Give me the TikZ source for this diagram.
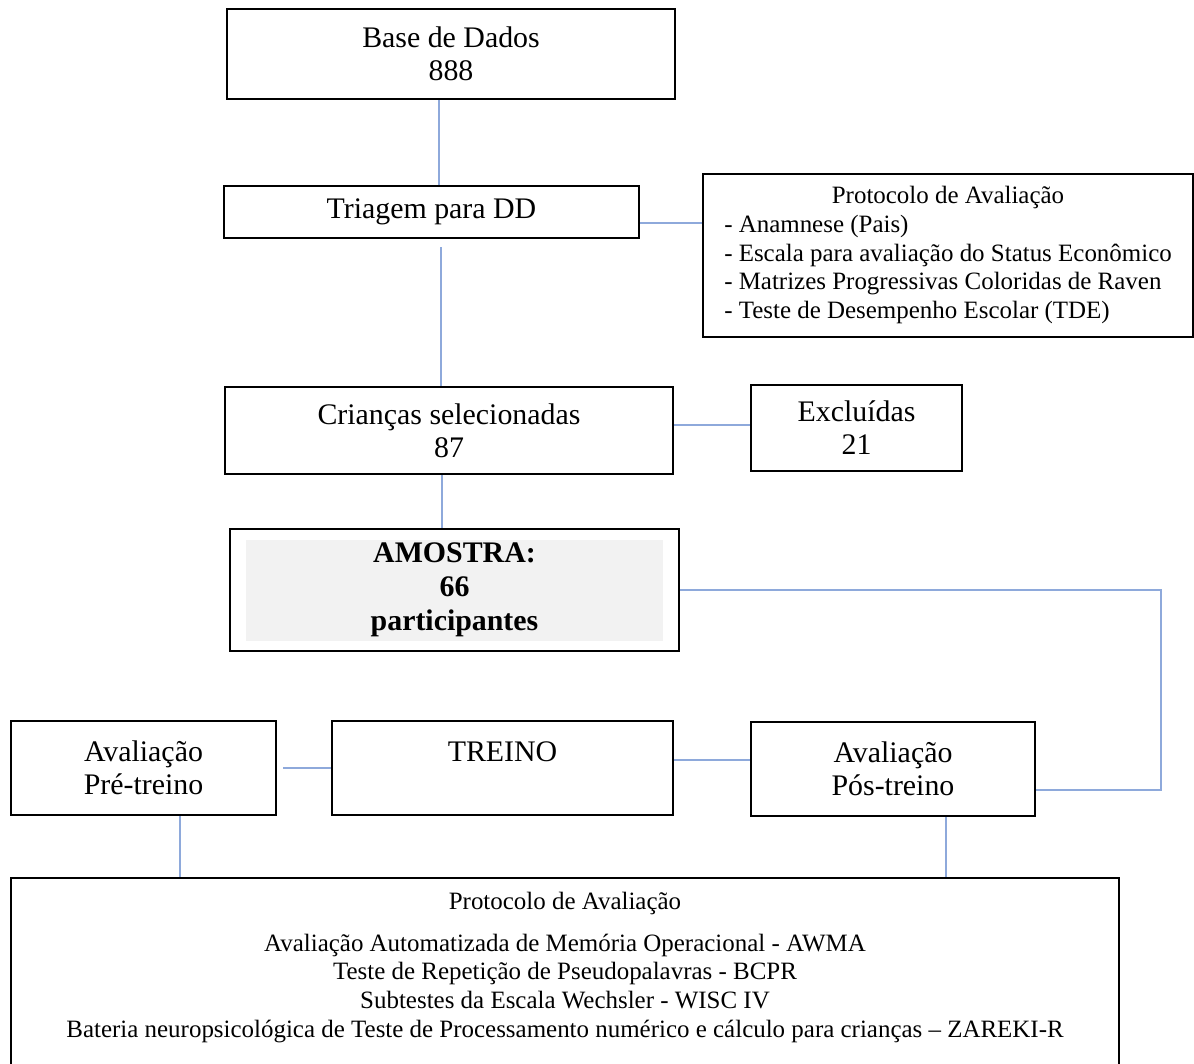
\documentclass[tikz,border=0pt]{standalone}
\usepackage{fontspec}
\setmainfont{Liberation Serif}
\usepackage{tikz}
\usetikzlibrary{calc}
\definecolor{linkblue}{RGB}{142,169,219}
\definecolor{shadegray}{RGB}{242,242,242}
\tikzset{
	box/.style={draw, line width=1.2pt, inner sep=0pt, align=center, font=\fontsize{17}{18.7}\selectfont},
	protbox/.style={draw, line width=1.2pt, inner sep=0pt, font=\fontsize{14.2}{16.3}\selectfont},
	conn/.style={draw=linkblue, line width=0.7pt},
	connbold/.style={draw=linkblue, line width=1.3pt}
}

\begin{document}
\begin{tikzpicture}[x=0.02cm, y=-0.02cm]
				%%%%% START %%%%%
				\useasboundingbox (0,0) rectangle (1194,1064);
				\clip (0,0) rectangle (1194,1064);
				
				\node[box, minimum width=8.96cm, minimum height=1.80cm] (base) at (451,54) {Base de Dados\\888};
				\node[box, minimum width=8.30cm, minimum height=1.04cm] (triagem) at (431.5,212) {Triagem para DD};
				\node[protbox, minimum width=9.80cm, minimum height=3.26cm] (protA) at (948,255.5)
					{\begin{tabular}{@{}l@{}}
						\multicolumn{1}{@{}c@{}}{Protocolo de Avaliação}\\
						- Anamnese (Pais)\\
						- Escala para avaliação do Status Econômico\\
						- Matrizes Progressivas Coloridas de Raven\\
						- Teste de Desempenho Escolar (TDE)
					\end{tabular}};
				
				\node[box, minimum width=8.96cm, minimum height=1.74cm] (criancas) at (449,430.5) {Crianças selecionadas\\87};
				\node[box, minimum width=4.22cm, minimum height=1.72cm] (excl) at (856.5,428) {Excluídas\\21};
				
				\fill[shadegray] (246,540) rectangle (663,641);
				\node[box, font=\fontsize{17}{19.5}\selectfont\bfseries, minimum width=8.98cm, minimum height=2.44cm] (amostra) at (454.5,590) {AMOSTRA:\\66\\participantes};
				
				\node[box, minimum width=5.30cm, minimum height=1.88cm] (pre) at (143.5,768) {Avaliação\\Pré-treino};
				\node[box, minimum width=6.82cm, minimum height=1.88cm] (treino) at (502.5,768) {TREINO\\\mbox{}};
				\node[box, minimum width=5.68cm, minimum height=1.88cm] (pos) at (893,769) {Avaliação\\Pós-treino};
				
				\node[protbox, anchor=north, minimum width=22.16cm, inner ysep=0.12cm, text height=0.5cm, text depth=4cm] (protB) at (565,877)
					{\begin{tabular}[t]{@{}c@{}}
						Protocolo de Avaliação\\[0.27cm]
						Avaliação Automatizada de Memória Operacional - AWMA\\
						Teste de Repetição de Pseudopalavras - BCPR\\
						Subtestes da Escala Wechsler - WISC IV\\
						Bateria neuropsicológica de Teste de Processamento numérico e cálculo para crianças – ZAREKI-R
					\end{tabular}};
				
				% connectors
				\draw[conn] ([xshift=-0.24cm]base.south) -- ([xshift=-0.24cm]base.south |- triagem.north);
				\draw[connbold] ([yshift=-0.22cm]triagem.east) -- ([yshift=-0.22cm]triagem.east -| protA.west);
				\draw[conn] ([shift={(0.19cm,-0.16cm)}]triagem.south) -- ([xshift=0.19cm]triagem.south |- criancas.north);
				\draw[connbold] ([yshift=0.11cm]criancas.east) -- ([yshift=0.11cm]criancas.east -| excl.west);
				\draw[conn] ([xshift=-0.14cm]criancas.south) -- ([xshift=-0.14cm]criancas.south |- amostra.north);
				\draw[connbold] (amostra.east) -- ++(9.62cm,0) |- ([yshift=-0.42cm]pos.east);
				\draw[connbold] ([xshift=0.12cm]pre.east) -- (treino.west);
				\draw[connbold] ([yshift=0.16cm]treino.east) -- ([yshift=0.16cm]treino.east -| pos.west);
				\draw[conn] ([xshift=0.73cm]pre.south) -- ([xshift=0.73cm]pre.south |- protB.north);
				\draw[conn] ([xshift=1.06cm]pos.south) -- ([xshift=1.06cm]pos.south |- protB.north);
				%%%%% END %%%%%
\end{tikzpicture}
\end{document}
